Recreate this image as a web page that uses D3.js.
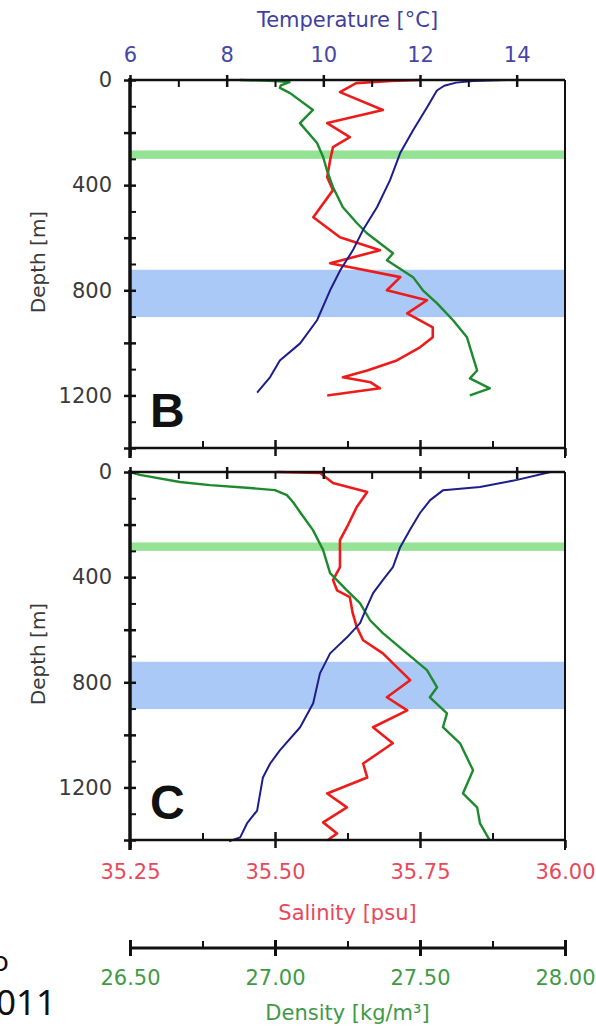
<!DOCTYPE html>
<html>
<head>
<meta charset="utf-8">
<script src="https://cdn.jsdelivr.net/npm/d3@7"></script>
<style>
  body { margin: 0; background: #fff; }
  svg { display: block; }
</style>
</head>
<body>
<div id="chart"></div>
<script>
// tick values
const depthLabels = [0, 400, 800, 1200];
const tempTicks = [6, 8, 10, 12, 14];
const salTicks = [35.25, 35.50, 35.75, 36.00];
const densTicks = [26.50, 27.00, 27.50, 28.00];

// marked depth bands [top, bottom] in m
const greenBand = [268, 300];
const blueBand = [722, 902];

// panel B profiles: [depth m, value]
const tempB = [[0,13.8],[4,13.1],[10,12.75],[22,12.5],[40,12.35],[103,12.15],[190,11.86],[278,11.59],[381,11.38],[484,11.11],[571,10.82],[648,10.61],[724,10.35],[800,10.14],[914,9.87],[1002,9.52],[1067,9.10],[1130,8.9],[1189,8.63]];
const salB = [[0,35.75],[4,35.70],[12,35.64],[46,35.612],[114,35.686],[164,35.59],[217,35.629],[255,35.60],[305,35.595],[370,35.59],[419,35.60],[522,35.566],[598,35.612],[648,35.681],[697,35.595],[750,35.716],[800,35.693],[838,35.762],[888,35.728],[941,35.772],[979,35.772],[1017,35.75],[1067,35.71],[1105,35.659],[1131,35.617],[1150,35.665],[1173,35.681],[1200,35.59]];
const densB = [[0,26.88],[4,27.0],[8,27.05],[20,27.02],[30,27.017],[50,27.052],[114,27.131],[164,27.086],[240,27.145],[293,27.166],[343,27.179],[408,27.20],[484,27.234],[545,27.283],[583,27.317],[621,27.362],[659,27.407],[686,27.386],[750,27.476],[800,27.51],[850,27.559],[914,27.614],[979,27.662],[1055,27.683],[1105,27.697],[1135,27.672],[1173,27.741],[1200,27.672]];

// panel C profiles
const tempC = [[0,14.7],[30,14.01],[57,13.24],[69,12.48],[107,12.21],[156,12.0],[221,11.79],[286,11.59],[362,11.44],[411,11.23],[461,11.03],[514,10.90],[575,10.76],[629,10.49],[690,10.14],[766,9.93],[880,9.79],[971,9.52],[1059,9.10],[1109,8.90],[1162,8.75],[1288,8.63],[1337,8.42],[1390,8.28],[1405,8.05]];
const salC = [[0,35.503],[4,35.578],[42,35.60],[76,35.659],[133,35.641],[210,35.624],[259,35.612],[362,35.612],[411,35.60],[450,35.607],[476,35.629],[537,35.634],[590,35.641],[640,35.652],[690,35.686],[792,35.733],[857,35.693],[907,35.728],[971,35.669],[1032,35.703],[1109,35.652],[1162,35.659],[1223,35.59],[1276,35.624],[1333,35.583],[1375,35.607],[1402,35.59]];
const densC = [[0,26.50],[11,26.534],[38,26.672],[50,26.776],[61,26.914],[69,27.0],[88,27.041],[114,27.062],[152,27.086],[221,27.131],[297,27.166],[385,27.19],[450,27.248],[499,27.293],[564,27.328],[613,27.372],[690,27.455],[754,27.524],[819,27.559],[857,27.534],[918,27.593],[971,27.579],[1032,27.638],[1135,27.683],[1223,27.648],[1276,27.697],[1337,27.707],[1402,27.741]];

const panels = [
  {name: "B", top: 80, temp: tempB, sal: salB, dens: densB},
  {name: "C", top: 472, temp: tempC, sal: salC, dens: densC}
];

const width = 596, height = 1028;
const left = 130, right = 565, panelH = 368;
const font = "'DejaVu Sans', sans-serif";

const svg = d3.select("#chart").append("svg")
  .attr("width", width).attr("height", height);

const xTemp = d3.scaleLinear().domain([6, 15]).range([left, right]);
const xSal = d3.scaleLinear().domain([35.25, 36]).range([left, right]);
const xDens = d3.scaleLinear().domain([26.5, 28]).range([left, right]);
const y = d3.scaleLinear().domain([0, 1400]).range([0, panelH]);

// tick marks only (no labels, no domain)
function ticks(g, axis, values, size, w) {
  g.append("g")
    .call(axis.tickValues(values).tickSize(size).tickFormat(""))
    .call(s => s.select(".domain").remove())
    .selectAll("line").attr("stroke", "#111").attr("stroke-width", w);
}

// tick labels only
function labels(g, axis, values, pad, fmt, color) {
  g.append("g")
    .call(axis.tickValues(values).tickSize(0).tickPadding(pad).tickFormat(fmt))
    .attr("color", color)
    .call(s => s.select(".domain").remove())
    .selectAll("text").style("font-family", font).style("font-size", "21px");
}

panels.forEach(p => {
  const g = svg.append("g").attr("transform", "translate(0," + p.top + ")");

  // bands
  [[greenBand, "#94e294"], [blueBand, "#abc9f6"]].forEach(([b, c]) => {
    g.append("rect")
      .attr("x", left).attr("width", right - left)
      .attr("y", y(b[0])).attr("height", y(b[1]) - y(b[0]))
      .attr("fill", c);
  });

  // profiles
  const series = [
    {data: p.sal, x: xSal, color: "#ee1b1b", w: 2.6},
    {data: p.dens, x: xDens, color: "#1d8a2e", w: 2.4},
    {data: p.temp, x: xTemp, color: "#1d1d8c", w: 2}
  ];
  series.forEach(s => {
    g.append("path")
      .datum(s.data)
      .attr("fill", "none")
      .attr("stroke", s.color)
      .attr("stroke-width", s.w)
      .attr("stroke-linejoin", "round")
      .attr("d", d3.line().x(d => s.x(d[1])).y(d => y(d[0])));
  });

  // frame
  g.append("line").attr("x1", left).attr("x2", right).attr("y1", 0).attr("y2", 0)
    .attr("stroke", "#111").attr("stroke-width", 2.5);
  g.append("line").attr("x1", left).attr("x2", right).attr("y1", panelH).attr("y2", panelH)
    .attr("stroke", "#111").attr("stroke-width", 2.5);
  g.append("line").attr("x1", right).attr("x2", right).attr("y1", 0).attr("y2", panelH + 10)
    .attr("stroke", "#111").attr("stroke-width", 2);
  g.append("line").attr("x1", left).attr("x2", left).attr("y1", -2).attr("y2", panelH + 10)
    .attr("stroke", "#111").attr("stroke-width", 3.5);

  // depth axis
  const yAxG = g.append("g").attr("transform", "translate(" + left + ",0)");
  const majors = d3.range(0, 1401, 200), minors = d3.range(100, 1400, 200);
  ticks(yAxG, d3.axisLeft(y), majors, 6, 2.5);
  ticks(yAxG, d3.axisLeft(y), majors, -6, 2.5);
  ticks(yAxG, d3.axisLeft(y), minors, -6, 2);
  labels(yAxG, d3.axisLeft(y), depthLabels, 18, d3.format("d"), "#3a3a3a");

  // temperature ticks on top
  const tAxG = g.append("g");
  ticks(tAxG, d3.axisTop(xTemp), tempTicks, 5, 2.5);
  ticks(tAxG, d3.axisTop(xTemp), tempTicks, -7, 2.5);
  ticks(tAxG, d3.axisTop(xTemp), [7, 9, 11, 13], -7, 2);
  if (p.name === "B") {
    labels(tAxG, d3.axisTop(xTemp), tempTicks, 18, d3.format("d"), "#4646a6");
  }

  // salinity ticks on bottom
  const sAxG = g.append("g").attr("transform", "translate(0," + panelH + ")");
  ticks(sAxG, d3.axisBottom(xSal), salTicks, 8, 2.5);
  ticks(sAxG, d3.axisBottom(xSal), salTicks.slice(1, 3), -8, 2.5);
  ticks(sAxG, d3.axisBottom(xSal), [35.375, 35.625, 35.875], -7, 2);

  // panel letter
  g.append("text")
    .attr("x", 150).attr("y", 347)
    .style("font-family", "'Liberation Sans', Arial, sans-serif")
    .style("font-weight", "bold").style("font-size", "48px")
    .attr("fill", "#111")
    .text(p.name);

  // depth title
  g.append("text")
    .attr("transform", "translate(45," + 182 + ") rotate(-90)")
    .attr("text-anchor", "middle")
    .style("font-family", font).style("font-size", "20px")
    .attr("fill", "#3a3a3a")
    .text("Depth [m]");
});

// salinity labels below panel C
const salLabG = svg.append("g").attr("transform", "translate(0," + (472 + panelH) + ")");
labels(salLabG, d3.axisBottom(xSal), salTicks, 24, d3.format(".2f"), "#e8485a");

// density axis
const densY = 948;
const dAxG = svg.append("g").attr("transform", "translate(0," + densY + ")");
dAxG.append("line").attr("x1", left).attr("x2", right)
  .attr("stroke", "#111").attr("stroke-width", 3);
ticks(dAxG, d3.axisBottom(xDens), densTicks, 8, 3);
ticks(dAxG, d3.axisBottom(xDens), densTicks, -8, 3);
ticks(dAxG, d3.axisBottom(xDens), [26.75, 27.25, 27.75], -7, 2);
labels(dAxG, d3.axisBottom(xDens), densTicks, 22, d3.format(".2f"), "#3f9a46");

// axis titles
const titles = [
  {text: "Temperature [°C]", y: 27, color: "#3f3f9f"},
  {text: "Salinity [psu]", y: 920, color: "#e8485a"},
  {text: "Density [kg/m³]", y: 1020, color: "#3f9a46"}
];
titles.forEach(t => {
  svg.append("text")
    .attr("x", (left + right) / 2).attr("y", t.y)
    .attr("text-anchor", "middle")
    .style("font-family", font).style("font-size", "21px")
    .attr("fill", t.color)
    .text(t.text);
});

// cropped caption text at the left edge
svg.append("text")
  .attr("x", 9).attr("y", 971).attr("text-anchor", "end")
  .style("font-family", "'Noto Sans', sans-serif").style("font-size", "28px")
  .attr("fill", "#111").text("o");
svg.append("text")
  .attr("x", 56).attr("y", 1015).attr("text-anchor", "end")
  .style("font-family", "'Noto Sans', sans-serif").style("font-size", "35px")
  .attr("fill", "#111").text("2011");
</script>
</body>
</html>
